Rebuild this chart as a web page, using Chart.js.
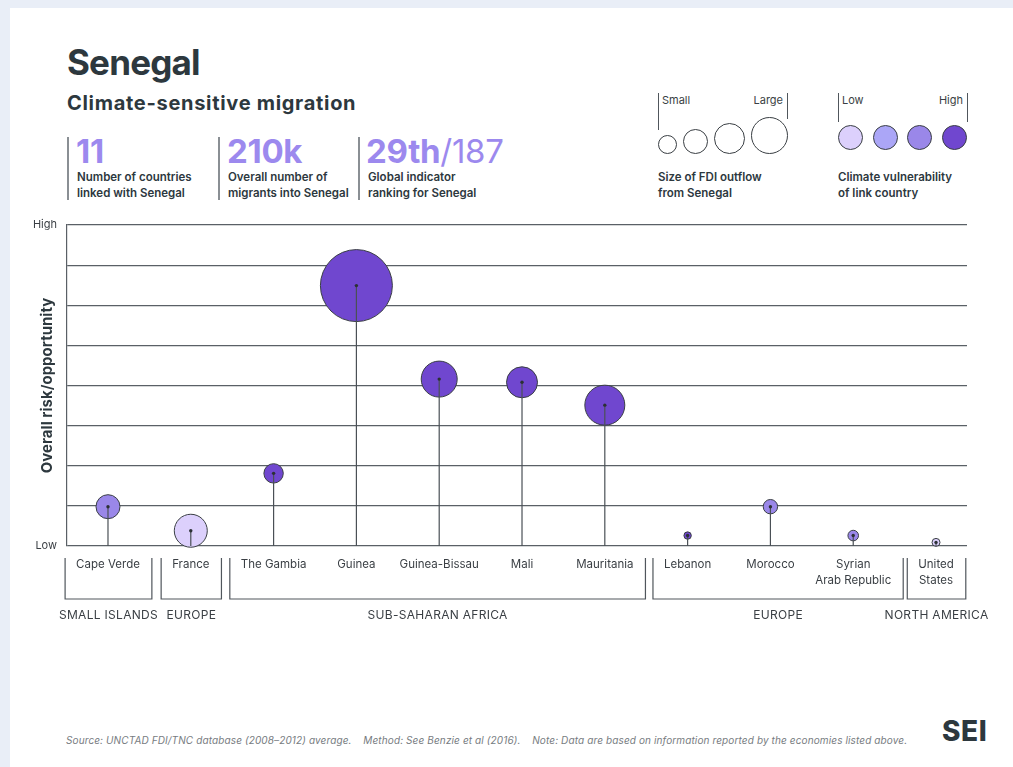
<!DOCTYPE html>
<html>
<head>
<meta charset="utf-8">
<script src="https://cdn.jsdelivr.net/npm/chart.js@4.4.0/dist/chart.umd.min.js"></script>
<style>
html, body { margin: 0; padding: 0; }
body { width: 1013px; height: 767px; background: #e9eef7; position: relative; overflow: hidden;
       font-family: Inter, "Noto Sans", sans-serif; color: #2d383e; }
#card { position: absolute; left: 10px; top: 8px; right: 0; bottom: 0; background: #fff; }
.t { position: absolute; white-space: nowrap; line-height: 1; }
.lbl { position: absolute; white-space: nowrap; font-size: 11.5px; font-weight: 600; line-height: 16px; }
.big { position: absolute; white-space: nowrap; font-size: 33px; font-weight: 700; color: #9c89ee; line-height: 1; letter-spacing: -0.3px; }
.bar { position: absolute; width: 1.5px; background: #8a8f94; }
.vline { position: absolute; width: 1px; background: #50565c; }
.circ { position: absolute; border: 1px solid #3a3f44; border-radius: 50%; box-sizing: border-box; }
.small { position: absolute; font-size: 11px; line-height: 1; white-space: nowrap; color: #3a3f44; }
#wrap { position: absolute; left: 0; top: 0; width: 1013px; height: 767px; }
</style>
</head>
<body>
<div id="card"></div>

<div class="t" style="left:67px;top:45px;font-size:35px;font-weight:700;letter-spacing:-0.8px;">Senegal</div>
<div class="t" style="left:67px;top:93px;font-size:20px;font-weight:700;letter-spacing:0.7px;">Climate-sensitive migration</div>

<div class="bar" style="left:67px;top:137px;height:63px;"></div>
<div class="big" style="left:76px;top:135px;">11</div>
<div class="lbl" style="left:77px;top:169px;">Number of countries<br>linked with Senegal</div>

<div class="bar" style="left:218px;top:137px;height:63px;"></div>
<div class="big" style="left:227px;top:135px;">210k</div>
<div class="lbl" style="left:228px;top:169px;">Overall number of<br>migrants into Senegal</div>

<div class="bar" style="left:358px;top:137px;height:63px;"></div>
<div class="big" style="left:366px;top:135px;">29th<span style="font-weight:400;">/187</span></div>
<div class="lbl" style="left:368px;top:169px;">Global indicator<br>ranking for Senegal</div>

<!-- FDI size legend -->
<div class="vline" style="left:658px;top:93px;height:37px;"></div>
<div class="vline" style="left:787px;top:93px;height:26px;"></div>
<div class="small" style="left:662px;top:95px;">Small</div>
<div class="small" style="right:230px;top:95px;">Large</div>
<div class="circ" style="left:658px;top:135px;width:19px;height:19px;"></div>
<div class="circ" style="left:683px;top:129px;width:25px;height:25px;"></div>
<div class="circ" style="left:714px;top:123px;width:31px;height:31px;"></div>
<div class="circ" style="left:751px;top:117px;width:37px;height:37px;"></div>
<div class="lbl" style="left:658px;top:169px;">Size of FDI outflow<br>from Senegal</div>

<!-- vulnerability legend -->
<div class="vline" style="left:838px;top:93px;height:29px;"></div>
<div class="vline" style="left:967px;top:93px;height:29px;"></div>
<div class="small" style="left:842px;top:95px;">Low</div>
<div class="small" style="right:50px;top:95px;">High</div>
<div id="vulnLegend"></div>
<div class="lbl" style="left:838px;top:169px;">Climate vulnerability<br>of link country</div>

<div class="t" style="left:66px;top:735px;font-size:10px;font-style:italic;color:#777c81;letter-spacing:0.12px;">Source: UNCTAD FDI/TNC database (2008–2012) average.&nbsp;&nbsp;&nbsp;&nbsp;Method: See Benzie et al (2016).&nbsp;&nbsp;&nbsp;&nbsp;Note: Data are based on information reported by the economies listed above.</div>
<div class="t" style="left:942px;top:717px;font-size:28px;font-weight:800;letter-spacing:0.6px;">SEI</div>

<div id="wrap"><canvas id="chart"></canvas></div>

<script>
const countries = ['Cape Verde', 'France', 'The Gambia', 'Guinea', 'Guinea-Bissau', 'Mali',
                   'Mauritania', 'Lebanon', 'Morocco', 'Syrian Arab Republic', 'United States'];
const tickLabels = [['Cape Verde'], ['France'], ['The Gambia'], ['Guinea'], ['Guinea-Bissau'], ['Mali'],
                    ['Mauritania'], ['Lebanon'], ['Morocco'], ['Syrian', 'Arab Republic'], ['United', 'States']];
const riskScores = [0.98, 0.38, 1.81, 6.49, 4.16, 4.08, 3.51, 0.26, 0.98, 0.26, 0.09];
const fdiSize = [12, 16.5, 9.7, 36, 18, 15.5, 20, 3.7, 7.2, 5.3, 4];
const vulnerability = [3, 1, 4, 4, 4, 4, 4, 4, 3, 3, 1];
const vulnColors = ['#dcd0fc', '#aba6f7', '#9a87e9', '#7047cf'];
const regionNames = ['SMALL ISLANDS', 'EUROPE', 'SUB-SAHARAN AFRICA', 'EUROPE', 'NORTH AMERICA'];
const regionStart = [0, 1, 2, 7, 10];
const regionEnd = [0, 1, 6, 9, 10];
const yTickLabels = { 0: 'Low', 8: 'High' };

const ink = '#3a3f44';
const gridColor = '#5a6066';
const fontFamily = 'Inter, "Noto Sans", sans-serif';

// legend swatches for vulnerability
const vl = document.getElementById('vulnLegend');
vulnColors.forEach((c, i) => {
    const d = document.createElement('div');
    d.className = 'circ';
    d.style.cssText = `left:${838 + i * 34.5}px;top:125px;width:25px;height:25px;background:${c};`;
    vl.appendChild(d);
});

const stemPlugin = {
    id: 'stems',
    afterDatasetsDraw(chart) {
        const ctx = chart.ctx;
        const y0 = chart.scales.y.getPixelForValue(0);
        const meta = chart.getDatasetMeta(0);
        ctx.save();
        meta.data.forEach(pt => {
            ctx.strokeStyle = '#4a5056';
            ctx.lineWidth = 1.2;
            ctx.beginPath();
            ctx.moveTo(pt.x, pt.y);
            ctx.lineTo(pt.x, y0);
            ctx.stroke();
            ctx.fillStyle = '#2b3035';
            ctx.beginPath();
            ctx.arc(pt.x, pt.y, 1.7, 0, Math.PI * 2);
            ctx.fill();
        });
        ctx.restore();
    }
};

// bracket boxes under the country names + region captions
const regionPlugin = {
    id: 'regions',
    afterDraw(chart) {
        const ctx = chart.ctx;
        const xs = chart.scales.x;
        const bottom = chart.chartArea.bottom;
        ctx.save();
        regionNames.forEach((name, g) => {
            ctx.font = '11.5px ' + fontFamily;
            ctx.letterSpacing = '0px';
            let left = Infinity, right = -Infinity;
            for (let i = regionStart[g]; i <= regionEnd[g]; i++) {
                const x = xs.getPixelForValue(i);
                const w = Math.max(...tickLabels[i].map(s => ctx.measureText(s).width));
                left = Math.min(left, x - w / 2);
                right = Math.max(right, x + w / 2);
            }
            left -= 11; right += 12;
            ctx.strokeStyle = '#50565c';
            ctx.lineWidth = 1.2;
            ctx.beginPath();
            ctx.moveTo(left, bottom + 12);
            ctx.lineTo(left, bottom + 53);
            ctx.lineTo(right, bottom + 53);
            ctx.lineTo(right, bottom + 12);
            ctx.stroke();
            ctx.font = '12px ' + fontFamily;
            ctx.fillStyle = ink;
            ctx.textAlign = 'center';
            ctx.textBaseline = 'middle';
            ctx.letterSpacing = '0.3px';
            ctx.fillText(name, (left + right) / 2, bottom + 69);
        });
        ctx.restore();
    }
};

new Chart(document.getElementById('chart'), {
    type: 'bubble',
    data: {
        datasets: [{
            data: riskScores.map((v, i) => ({ x: i, y: v, r: fdiSize[i] })),
            backgroundColor: vulnerability.map(v => vulnColors[v - 1]),
            borderColor: ink,
            borderWidth: 1,
            hoverRadius: 0,
            clip: false
        }]
    },
    options: {
        responsive: true,
        maintainAspectRatio: false,
        animation: false,
        events: [],
        layout: { padding: { left: 25, right: 46, top: 225, bottom: 171 } },
        plugins: { legend: { display: false }, tooltip: { enabled: false } },
        scales: {
            x: {
                type: 'linear',
                min: -0.495,
                max: 10.374,
                afterBuildTicks: s => { s.ticks = countries.map((c, i) => ({ value: i })); },
                afterFit: s => { s.height = 50; },
                grid: { display: false },
                border: { display: false },
                ticks: {
                    autoSkip: false,
                    maxRotation: 0,
                    padding: 3,
                    color: ink,
                    font: { family: fontFamily, size: 11.5, lineHeight: 1.39 },
                    callback: v => tickLabels[v] || ''
                }
            },
            y: {
                min: 0,
                max: 8,
                afterFit: s => { s.width = 42; },
                grid: { color: gridColor, lineWidth: 1.2, drawTicks: false },
                border: { display: true, color: gridColor, width: 1.2 },
                ticks: {
                    stepSize: 1,
                    padding: 10,
                    color: ink,
                    font: { family: fontFamily, size: 11 },
                    callback: v => yTickLabels[v] || ''
                },
                title: {
                    display: true,
                    text: 'Overall risk/opportunity',
                    color: '#2d383e',
                    padding: { top: 13, bottom: 0 },
                    font: { family: fontFamily, size: 15, weight: 'bold' }
                }
            }
        }
    },
    plugins: [stemPlugin, regionPlugin]
});
</script>
</body>
</html>
